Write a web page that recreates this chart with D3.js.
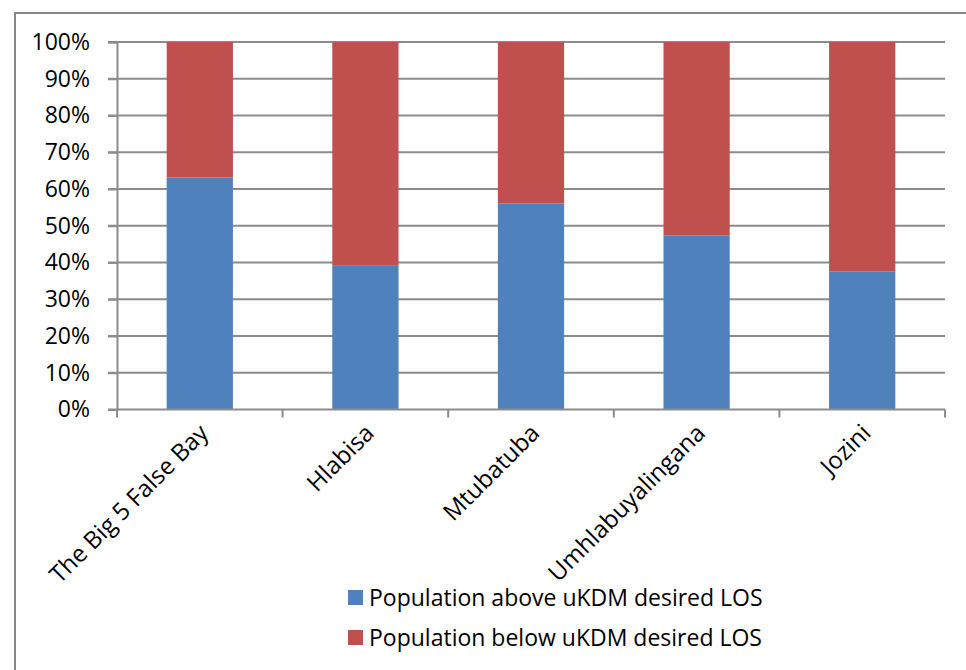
<!DOCTYPE html>
<html>
<head>
<meta charset="utf-8">
<script src="https://cdn.jsdelivr.net/npm/d3@7/dist/d3.min.js"></script>
<style>
  html, body { margin: 0; padding: 0; background: #fff; }
  svg { display: block; }
  text { font-family: "Open Sans", sans-serif; fill: #000; }
</style>
</head>
<body>
<svg id="chart" width="966" height="670"></svg>
<script>
// Municipalities in uMkhanyakude District
const categories = ["The Big 5 False Bay", "Hlabisa", "Mtubatuba", "Umhlabuyalingana", "Jozini"];
// Share of population above the desired level of service (%)
const aboveLOS = [63.1, 39.1, 56.1, 47.3, 37.6];
// Share of population below the desired level of service (%)
const belowLOS = aboveLOS.map(v => 100 - v);
const seriesNames = ["Population above uKDM desired LOS", "Population below uKDM desired LOS"];
const seriesColors = ["#4F81BD", "#C0504D"];
const yTicks = [0, 10, 20, 30, 40, 50, 60, 70, 80, 90, 100];

const svg = d3.select("#chart");
const plot = { left: 117, right: 945, top: 42, bottom: 409.5 };
const fontSize = 23;
const labelSize = 24;

// Outer chart frame
svg.append("rect")
  .attr("x", 15).attr("y", 13)
  .attr("width", 1000).attr("height", 1000)
  .attr("fill", "none").attr("stroke", "#868686").attr("stroke-width", 2);

const x = d3.scaleBand().domain(categories).range([plot.left, plot.right]).paddingInner(0.6).paddingOuter(0.3);
const xBand = d3.scaleBand().domain(categories).range([plot.left, plot.right]);
const y = d3.scaleLinear().domain([0, 100]).range([plot.bottom, plot.top]);

// Horizontal gridlines
svg.append("g").selectAll("line").data(yTicks.filter(t => t > 0)).join("line")
  .attr("x1", plot.left - 9).attr("x2", plot.right)
  .attr("y1", d => y(d)).attr("y2", d => y(d))
  .attr("stroke", "#8c8c8c").attr("stroke-width", 2);

// Stacked bars
const rows = categories.map((c, i) => ({ cat: c, above: aboveLOS[i], below: belowLOS[i] }));
const stack = d3.stack().keys(["above", "below"])(rows);
svg.append("g").selectAll("g").data(stack).join("g")
  .attr("fill", (d, i) => seriesColors[i])
  .selectAll("rect").data(d => d).join("rect")
  .attr("x", d => x(d.data.cat))
  .attr("width", x.bandwidth())
  .attr("y", d => y(d[1]))
  .attr("height", d => y(d[0]) - y(d[1]));

// Y axis
const yAxis = d3.axisLeft(y).tickValues(yTicks).tickFormat(d => d + "%").tickSize(9).tickPadding(18);
const gy = svg.append("g").attr("transform", `translate(${plot.left},0)`).call(yAxis);
gy.select(".domain").attr("stroke", "#8c8c8c").attr("stroke-width", 2);
gy.selectAll(".tick line").attr("stroke", "#8c8c8c").attr("stroke-width", 2);
gy.selectAll(".tick text").attr("font-size", fontSize).attr("font-family", "'Open Sans', sans-serif").attr("fill", "#000");

// X axis line with category boundary ticks
svg.append("line")
  .attr("x1", plot.left - 9).attr("x2", plot.right)
  .attr("y1", plot.bottom).attr("y2", plot.bottom)
  .attr("stroke", "#8c8c8c").attr("stroke-width", 2);
const boundaries = categories.map(c => xBand(c)).concat([plot.right]);
svg.append("g").selectAll("line").data(boundaries).join("line")
  .attr("x1", d => d).attr("x2", d => d)
  .attr("y1", plot.bottom).attr("y2", plot.bottom + 8)
  .attr("stroke", "#8c8c8c").attr("stroke-width", 2);

// Rotated category labels
svg.append("g").selectAll("text").data(categories).join("text")
  .attr("transform", d => `translate(${xBand(d) + xBand.bandwidth() / 2 + 10},${plot.bottom + 25}) rotate(-45)`)
  .attr("text-anchor", "end")
  .attr("font-size", labelSize)
  .text(d => d);

// Legend
const legend = svg.append("g").selectAll("g").data(seriesNames).join("g")
  .attr("transform", (d, i) => `translate(348,${590 + i * 40})`);
legend.append("rect").attr("width", 15).attr("height", 15).attr("fill", (d, i) => seriesColors[i]);
legend.append("text").attr("x", 21).attr("y", 16).attr("font-size", fontSize).text(d => d);
</script>
</body>
</html>
